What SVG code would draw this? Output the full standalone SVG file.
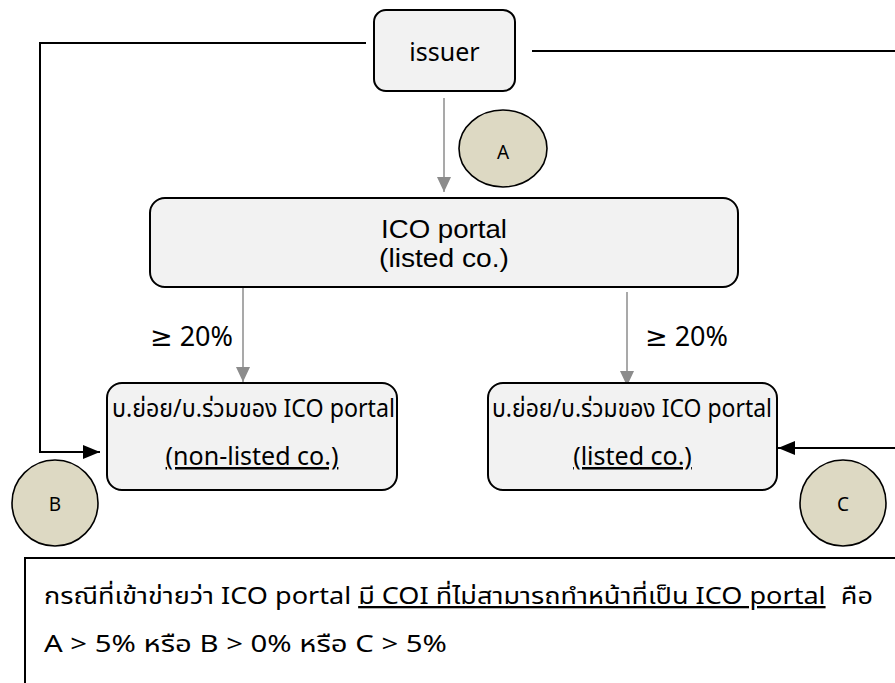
<svg xmlns="http://www.w3.org/2000/svg" width="895" height="683" viewBox="0 0 895 683">
<style>
.box{fill:#f2f2f2;stroke:#000;stroke-width:2}
.circ{fill:#ddd9c3;stroke:#000;stroke-width:1.6}
.t{font-family:"Noto Sans","Noto Sans Thai","DejaVu Sans",sans-serif;fill:#000}
.l{font-family:"Liberation Sans",Arial,sans-serif;fill:#000}
.gray{stroke:#8c8c8c;stroke-width:1.5;fill:none}
.blk{stroke:#000;stroke-width:2;fill:none}
.u{text-decoration:underline}
</style>
<defs>
<marker id="ag" markerUnits="userSpaceOnUse" markerWidth="16" markerHeight="16" viewBox="0 0 16 16" refX="15" refY="8" orient="auto">
<path d="M0,1 L15,8 L0,15 Z" fill="#8c8c8c"/>
</marker>
<marker id="ab" markerUnits="userSpaceOnUse" markerWidth="18" markerHeight="16" viewBox="0 0 18 16" refX="17" refY="8" orient="auto">
<path d="M0,1 L17,8 L0,15 Z" fill="#000"/>
</marker>
</defs>
<g id="connectors">
<path class="gray" d="M444,98 L444,192" marker-end="url(#ag)"/>
<path class="gray" d="M243,287 L243,382" marker-end="url(#ag)"/>
<path class="gray" d="M627,292 L627,386" marker-end="url(#ag)"/>
<path class="blk" d="M366,43 L40,43 L40,452 L100,452" marker-end="url(#ab)"/>
<path class="blk" d="M532,51 L897,51 L897,448 L778,448" marker-end="url(#ab)"/>
</g>
<g id="issuer">
<rect class="box" x="374" y="10" width="141" height="81" rx="12"/>
<text class="t" x="444.5" y="61" font-size="25" text-anchor="middle">issuer</text>
</g>
<g id="ico-portal">
<rect class="box" x="150" y="198" width="588" height="89" rx="15"/>
<text class="l" x="444" y="238" font-size="25" text-anchor="middle" textLength="126" lengthAdjust="spacingAndGlyphs">ICO portal</text>
<text class="l" x="444" y="267" font-size="25" text-anchor="middle" textLength="130" lengthAdjust="spacingAndGlyphs">(listed co.)</text>
</g>
<g id="sub-nonlisted">
<rect class="box" x="107" y="383" width="290" height="107" rx="15"/>
<text class="t" x="112" y="417" font-size="25" textLength="283" lengthAdjust="spacingAndGlyphs">บ.ย่อย/บ.ร่วมของ ICO portal</text>
<text class="t u" x="252" y="465" font-size="25" text-anchor="middle">(non-listed co.)</text>
</g>
<g id="sub-listed">
<rect class="box" x="488" y="383" width="289" height="107" rx="15"/>
<text class="t" x="492" y="417" font-size="25" textLength="280" lengthAdjust="spacingAndGlyphs">บ.ย่อย/บ.ร่วมของ ICO portal</text>
<text class="t u" x="632.5" y="465" font-size="25" text-anchor="middle">(listed co.)</text>
</g>
<g id="label-left">
<text class="t" x="150" y="346" font-size="27">≥ 20%</text>
</g>
<g id="label-right">
<text class="t" x="645" y="346" font-size="27">≥ 20%</text>
</g>
<g id="circle-a">
<ellipse class="circ" cx="503" cy="148.5" rx="44" ry="38.5"/>
<text class="t" x="503" y="159" font-size="19" text-anchor="middle">A</text>
</g>
<g id="circle-b">
<ellipse class="circ" cx="55" cy="503" rx="43" ry="43"/>
<text class="t" x="55" y="511" font-size="19" text-anchor="middle">B</text>
</g>
<g id="circle-c">
<ellipse class="circ" cx="843" cy="503" rx="43" ry="43"/>
<text class="t" x="843" y="511" font-size="19" text-anchor="middle">C</text>
</g>
<g id="note">
<rect x="25" y="558" width="900" height="160" fill="#fff" stroke="#000" stroke-width="2"/>
<text class="t" x="44" y="604" font-size="23" textLength="829" lengthAdjust="spacingAndGlyphs">กรณีที่เข้าข่ายว่า ICO portal <tspan class="u">มี COI ที่ไม่สามารถทำหน้าที่เป็น ICO portal</tspan><tspan dx="7"> คือ</tspan></text>
<text class="t" x="44" y="652" font-size="23" textLength="403" lengthAdjust="spacingAndGlyphs">A &gt; 5% หรือ B &gt; 0% หรือ C &gt; 5%</text>
</g>
</svg>
